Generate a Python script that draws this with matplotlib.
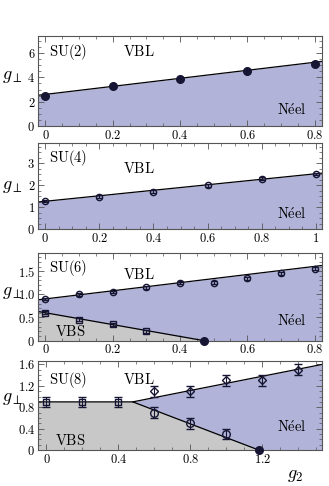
import numpy as np
import matplotlib
matplotlib.use('Agg')
import matplotlib.pyplot as plt
from matplotlib.ticker import MultipleLocator, FuncFormatter

plt.rcParams['mathtext.fontset'] = 'cm'
plt.rcParams['font.family'] = 'serif'
plt.rcParams['font.serif'] = ['DejaVu Serif']

# SU(2)
x2 = [0.0, 0.2, 0.4, 0.6, 0.8]
y2 = [2.5, 3.3, 3.9, 4.5, 5.1]
line2 = [2.6, 3.3]          # intercept, slope

# SU(4)
x4 = [0.0, 0.2, 0.4, 0.6, 0.8, 1.0]
y4 = [1.28, 1.48, 1.7, 2.0, 2.3, 2.5]
e4 = [0.06, 0.06, 0.06, 0.06, 0.06, 0.06]
line4 = [1.27, 1.25]

# SU(6)
x6_up = [0.0, 0.1, 0.2, 0.3, 0.4, 0.5, 0.6, 0.7, 0.8]
y6_up = [0.9, 1.0, 1.05, 1.15, 1.25, 1.25, 1.35, 1.45, 1.55]
e6_up = [0.03] * 9
x6_lo = [0.0, 0.1, 0.2, 0.3]
y6_lo = [0.6, 0.45, 0.35, 0.2]
e6_lo = [0.03] * 4
line6_up = [0.9, 0.88]
line6_lo = [0.6, -1.28]
g6_c = 0.47

# SU(8)
x8_sq = [0.0, 0.2, 0.4]
y8_sq = [0.9, 0.9, 0.9]
x8_di = [0.6, 0.8, 1.0, 1.2, 1.4]
y8_di = [1.1, 1.1, 1.3, 1.3, 1.5]
x8_ci = [0.6, 0.8, 1.0]
y8_ci = [0.7, 0.5, 0.3]
e8 = 0.1
g8_k, g8_c = 0.48, 1.18
gp8_k = 0.9

blue = '#b1b4d8'
gray = '#c8c8c8'
mk = '#161634'
frame = '#555555'

W, H = 329, 486
fig = plt.figure(figsize=(W / 100, H / 100), dpi=100)


def make_ax(top, bot, ylab_y):
    ax = fig.add_axes([38 / W, 1 - bot / H, 284 / W, (bot - top) / H])
    for s in ax.spines.values():
        s.set_color(frame)
        s.set_linewidth(0.8)
    ax.tick_params(which='both', direction='in', top=True, right=True,
                   color=frame, labelsize=9, pad=2)
    ax.tick_params(which='major', length=4, width=0.6)
    ax.tick_params(which='minor', length=2, width=0.5)
    fig.text(2 / W, 1 - ylab_y / H, r'$g_{\perp}$', fontsize=13,
             ha='left', va='center')
    return ax


def fmt(v, pos):
    s = ('%.1f' % v)
    if abs(v) < 1e-9:
        s = '0'
    elif abs(v - 1) < 1e-9:
        s = '1'
    return r'$%s$' % s


def fmt_keep(v, pos):
    if abs(v) < 1e-9:
        return r'$0$'
    return r'$%.1f$' % v


def fmt_int(v, pos):
    return r'$%d$' % round(v)


def labels(ax, name, vbl, neel, vbs=None):
    fs = 10.5
    ax.text(*name[1], r'$\mathrm{%s}$' % name[0], transform=ax.transAxes, fontsize=fs)
    ax.text(*vbl, r'$\mathrm{VBL}$', transform=ax.transAxes, fontsize=fs)
    ax.text(*neel, r'$\mathrm{N\acute{e}el}$', transform=ax.transAxes, fontsize=fs)
    if vbs is not None:
        ax.text(*vbs, r'$\mathrm{VBS}$', transform=ax.transAxes, fontsize=fs)


# ---- SU(2)
ax = make_ax(36, 126, 76)
xl = np.array([-0.022, 0.822])
yl = line2[0] + line2[1] * xl
ax.fill_between(xl, 0, yl, color=blue, lw=0)
ax.plot(xl, yl, color='k', lw=0.9)
ax.plot(x2, y2, 'o', color=mk, ms=5.5)
ax.set_xlim(xl)
ax.set_ylim(0, 7.4)
ax.xaxis.set_major_locator(MultipleLocator(0.2))
ax.xaxis.set_minor_locator(MultipleLocator(0.05))
ax.yaxis.set_major_locator(MultipleLocator(2))
ax.yaxis.set_minor_locator(MultipleLocator(0.5))
ax.xaxis.set_major_formatter(FuncFormatter(fmt))
ax.yaxis.set_major_formatter(FuncFormatter(fmt_int))
labels(ax, ('SU(2)', (0.04, 0.78)), (0.3, 0.78), (0.84, 0.12))

# ---- SU(4)
ax = make_ax(143.3, 229.3, 186)
xl = np.array([-0.026, 1.022])
yl = line4[0] + line4[1] * xl
ax.fill_between(xl, 0, yl, color=blue, lw=0)
ax.plot(xl, yl, color='k', lw=0.9)
ax.errorbar(x4, y4, yerr=e4, fmt='o', mfc='none', mec=mk, ecolor=mk,
            ms=4.5, mew=1.0, capsize=2.5, elinewidth=0.8)
ax.set_xlim(xl)
ax.set_ylim(0, 3.9)
ax.xaxis.set_major_locator(MultipleLocator(0.2))
ax.xaxis.set_minor_locator(MultipleLocator(0.05))
ax.yaxis.set_major_locator(MultipleLocator(1))
ax.yaxis.set_minor_locator(MultipleLocator(0.25))
ax.xaxis.set_major_formatter(FuncFormatter(fmt))
ax.yaxis.set_major_formatter(FuncFormatter(fmt_int))
labels(ax, ('SU(4)', (0.04, 0.78)), (0.3, 0.66), (0.84, 0.12))

# ---- SU(6)
ax = make_ax(252.7, 340.5, 292)
xl = np.array([-0.022, 0.822])
yu = line6_up[0] + line6_up[1] * xl
xlo = np.array([xl[0], g6_c])
ylo = line6_lo[0] + line6_lo[1] * xlo
ax.fill_between(xl, 0, yu, color=blue, lw=0)
ax.fill_between(xlo, 0, ylo, color=gray, lw=0)
ax.plot(xl, yu, color='k', lw=0.9)
ax.plot(xlo, ylo, color='k', lw=0.9)
ax.errorbar(x6_up, y6_up, yerr=e6_up, fmt='o', mfc='none', mec=mk, ecolor=mk,
            ms=4.5, mew=1.0, capsize=2.5, elinewidth=0.8)
ax.errorbar(x6_lo, y6_lo, yerr=e6_lo, fmt='s', mfc='none', mec=mk, ecolor=mk,
            ms=4, mew=1.0, capsize=2.5, elinewidth=0.8)
ax.plot([g6_c], [0], 'o', color=mk, ms=5.5, clip_on=False, zorder=5)
ax.set_xlim(xl)
ax.set_ylim(0, 1.9)
ax.xaxis.set_major_locator(MultipleLocator(0.2))
ax.xaxis.set_minor_locator(MultipleLocator(0.05))
ax.yaxis.set_major_locator(MultipleLocator(0.5))
ax.yaxis.set_minor_locator(MultipleLocator(0.1))
ax.xaxis.set_major_formatter(FuncFormatter(fmt))
ax.yaxis.set_major_formatter(FuncFormatter(fmt_keep))
labels(ax, ('SU(6)', (0.04, 0.78)), (0.3, 0.7), (0.84, 0.17), (0.06, 0.05))

# ---- SU(8)
ax = make_ax(360.7, 450, 398)
xl = np.array([-0.047, 1.532])
xa = np.array([xl[0], g8_k, xl[1]])
ya = np.array([gp8_k, gp8_k, 1.6])
xb = np.array([xl[0], g8_k, g8_c])
yb = np.array([gp8_k, gp8_k, 0])
ax.fill_between(xa, 0, ya, color=blue, lw=0)
ax.fill_between(xb, 0, yb, color=gray, lw=0)
ax.plot(xb, yb, color='k', lw=0.9)
ax.plot([g8_k, xl[1]], [gp8_k, 1.6], color='k', lw=0.9)
kw = dict(yerr=e8, mfc='none', mec=mk, ecolor=mk, mew=1.0, capsize=3,
          elinewidth=0.8)
ax.errorbar(x8_sq, y8_sq, fmt='s', ms=5, **kw)
ax.errorbar(x8_di, y8_di, fmt='D', ms=4.5, **kw)
ax.errorbar(x8_ci, y8_ci, fmt='o', ms=5.5, **kw)
ax.plot([g8_c], [0], 'o', color=mk, ms=5.5, clip_on=False, zorder=5)
ax.set_xlim(xl)
ax.set_ylim(0, 1.67)
ax.xaxis.set_major_locator(MultipleLocator(0.4))
ax.xaxis.set_minor_locator(MultipleLocator(0.1))
ax.yaxis.set_major_locator(MultipleLocator(0.4))
ax.yaxis.set_minor_locator(MultipleLocator(0.1))
ax.xaxis.set_major_formatter(FuncFormatter(fmt_keep))
ax.yaxis.set_major_formatter(FuncFormatter(fmt_keep))
labels(ax, ('SU(8)', (0.04, 0.74)), (0.3, 0.74), (0.84, 0.2), (0.06, 0.06))
ax.text(0.935, -0.28, r'$g_2$', transform=ax.transAxes, fontsize=13,
        ha='right', va='center')

fig.savefig('out.png', dpi=100)
